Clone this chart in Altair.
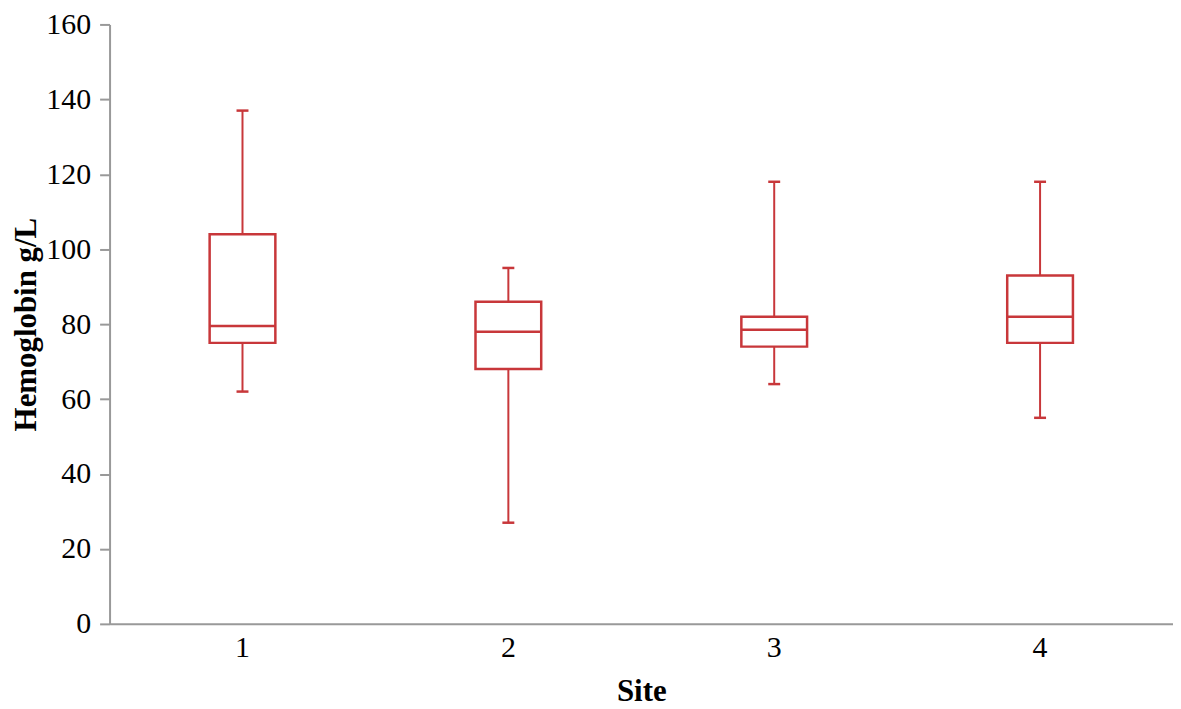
import altair as alt
import pandas as pd

sites = ["1", "2", "3", "4"]
mins = [62, 27, 64, 55]
q1s = [75, 68, 74, 75]
medians = [79.5, 78, 78.5, 82]
q3s = [104, 86, 82, 93]
maxs = [137, 95, 118, 118]

df = pd.DataFrame({"site": sites, "min": mins, "q1": q1s, "median": medians,
                   "q3": q3s, "max": maxs})

RED = "#C8373A"
FONT = "Liberation Serif"

x = alt.X("site:N", title="Site", scale=alt.Scale(paddingInner=0, paddingOuter=0),
          axis=alt.Axis(labelAngle=0, ticks=False, labelPadding=9, titlePadding=14))
yscale = alt.Scale(domain=[0, 160])
yaxis = alt.Axis(values=list(range(0, 161, 20)), title="Hemoglobin g/L", grid=False,
                 tickSize=10, labelPadding=9, titlePadding=3)

base = alt.Chart(df).encode(x=x)

whisk_low = base.mark_rule(color=RED, strokeWidth=2).encode(
    y=alt.Y("min:Q", scale=yscale, axis=yaxis), y2="q1:Q")
whisk_high = base.mark_rule(color=RED, strokeWidth=2).encode(
    y=alt.Y("q3:Q", scale=yscale, axis=yaxis), y2="max:Q")
box = base.mark_bar(size=66, fill="white", stroke=RED, strokeWidth=2.5).encode(
    y=alt.Y("q1:Q", scale=yscale, axis=yaxis), y2="q3:Q")
med = base.mark_tick(color=RED, size=66, thickness=2.5, opacity=1).encode(
    y=alt.Y("median:Q", scale=yscale, axis=yaxis))
cap_low = base.mark_tick(color=RED, size=12, thickness=2.5, opacity=1).encode(
    y=alt.Y("min:Q", scale=yscale, axis=yaxis))
cap_high = base.mark_tick(color=RED, size=12, thickness=2.5, opacity=1).encode(
    y=alt.Y("max:Q", scale=yscale, axis=yaxis))

chart = alt.layer(whisk_low, whisk_high, box, med, cap_low, cap_high).properties(
    width=1068, height=602, padding={"left": 3, "top": 0, "right": 0, "bottom": 0}
).configure_view(stroke=None).configure_axis(
    labelFontSize=30, titleFontSize=31, labelFont=FONT, titleFont=FONT,
    titleFontWeight="bold", labelColor="black", titleColor="black",
    domainColor="#999999", domainWidth=2, tickColor="#999999", tickWidth=2
)

chart.save("out.html", embed_options={"renderer": "svg", "actions": False})
